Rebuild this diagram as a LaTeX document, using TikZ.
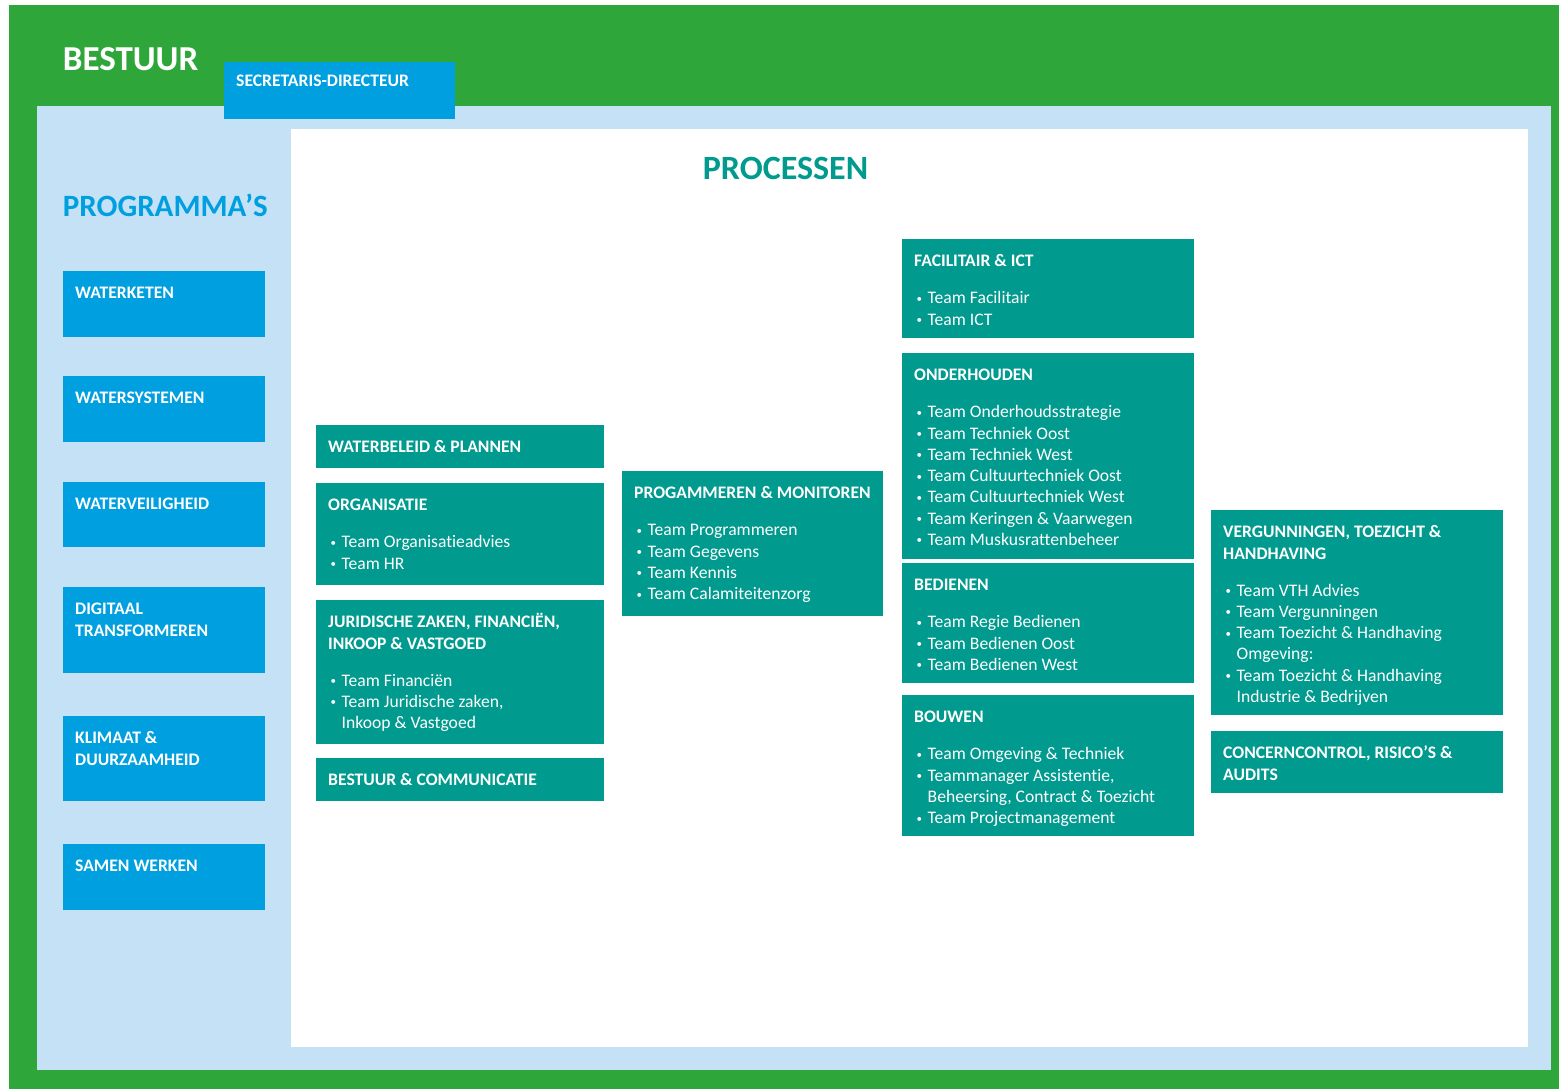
\documentclass[tikz,border=0pt]{standalone}
\usepackage{fontspec}
\setmainfont[Ligatures=NoCommon]{Carlito}
\definecolor{bgreen}{RGB}{46,166,58}
\definecolor{lblue}{RGB}{197,225,246}
\definecolor{pblue}{RGB}{0,160,224}
\definecolor{pteal}{RGB}{0,154,142}
\newcommand{\tm}{\makebox[13.5pt][l]{\hspace{2.5pt}\raisebox{1.6pt}{\fontsize{11}{11}\selectfont\textbullet}}}
\newcommand{\tc}{\hspace*{13.5pt}}
\newcommand{\vak}[3]{\parbox[t][#2pt][t]{#1pt}{\raggedright\leftskip=12pt\rule{0pt}{27.5pt}#3}}
\begin{document}
\begin{tikzpicture}[x=1pt,y=-1pt,
    vak/.style={anchor=north west,inner sep=0pt,text=white,font=\fontsize{17.6}{21.3}\selectfont},
    prog/.style={vak,fill=pblue},
    proc/.style={vak,fill=pteal},
    titel/.style={anchor=base west,inner sep=0pt,font=\bfseries}]
    \useasboundingbox (0,0) rectangle (1559,1089);
    \fill [white] (0,0) rectangle (1559,1089);
    \fill [bgreen] (9,5) rectangle (1559,1089); % bestuur
    \fill [lblue] (37,106) rectangle (1551,1070);
    \fill [white] (291,129) rectangle (1528,1047); % processen
    \node[titel,text=white,font=\fontsize{35}{40}\selectfont\bfseries] (bestuur) at (62.7,70.7) {BESTUUR};
    \node[prog] (secr) at (224,62) {\parbox[t][57pt][t]{231pt}{\leftskip=12pt\rule{0pt}{24pt}\bfseries SECRETARIS-DIRECTEUR}};
    \node[titel,text=pblue,font=\fontsize{31}{36}\selectfont\bfseries] (programmas) at (62.7,216.7) {PROGRAMMA’S};
    \node[titel,text=pteal,font=\fontsize{34}{38}\selectfont\bfseries] (processen) at (702.7,179.3) {PROCESSEN};
    % programma's
    \node[prog] (wk) at (63,271) {\vak{202}{66}{\bfseries WATERKETEN}};
    \node[prog] (ws) at (63,376) {\vak{202}{66}{\bfseries WATERSYSTEMEN}};
    \node[prog] (wv) at (63,482) {\vak{202}{65}{\bfseries WATERVEILIGHEID}};
    \node[prog] (dt) at (63,587) {\vak{202}{86}{\bfseries DIGITAAL\\TRANSFORMEREN}};
    \node[prog] (kd) at (63,716) {\vak{202}{85}{\bfseries KLIMAAT \&\\DUURZAAMHEID}};
    \node[prog] (sw) at (63,844) {\vak{202}{66}{\bfseries SAMEN WERKEN}};
    % processen, kolom 1
    \node[proc] (wbp) at (316,425) {\vak{288}{43}{\bfseries WATERBELEID \& PLANNEN}};
    \node[proc] (org) at (316,483) {\vak{288}{102}{\bfseries ORGANISATIE\\[15.7pt]\mdseries
        \tm Team Organisatieadvies\\\tm Team HR}};
    \node[proc] (jzf) at (316,600) {\vak{288}{144}{\bfseries JURIDISCHE ZAKEN, FINANCIËN,\\INKOOP \& VASTGOED\\[15.7pt]\mdseries
        \tm Team Financiën\\\tm Team Juridische zaken,\\\tc Inkoop \& Vastgoed}};
    \node[proc] (bc) at (316,758) {\vak{288}{43}{\bfseries BESTUUR \& COMMUNICATIE}};
    % kolom 2
    \node[proc] (pm) at (622,471) {\vak{261}{145}{\bfseries PROGAMMEREN \& MONITOREN\\[15.7pt]\mdseries
        \tm Team Programmeren\\\tm Team Gegevens\\\tm Team Kennis\\\tm Team Calamiteitenzorg}};
    % kolom 3
    \node[proc] (fi) at (902,239) {\vak{292}{99}{\bfseries FACILITAIR \& ICT\\[15.7pt]\mdseries
        \tm Team Facilitair\\\tm Team ICT}};
    \node[proc] (oh) at (902,353) {\vak{292}{206}{\bfseries ONDERHOUDEN\\[15.7pt]\mdseries
        \tm Team Onderhoudsstrategie\\\tm Team Techniek Oost\\\tm Team Techniek West\\
        \tm Team Cultuurtechniek Oost\\\tm Team Cultuurtechniek West\\
        \tm Team Keringen \& Vaarwegen\\\tm Team Muskusrattenbeheer}};
    \node[proc] (bd) at (902,563) {\vak{292}{120}{\bfseries BEDIENEN\\[15.7pt]\mdseries
        \tm Team Regie Bedienen\\\tm Team Bedienen Oost\\\tm Team Bedienen West}};
    \node[proc] (bw) at (902,695) {\vak{292}{141}{\bfseries BOUWEN\\[15.7pt]\mdseries
        \tm Team Omgeving \& Techniek\\\tm Teammanager Assistentie,\\
        \tc Beheersing, Contract \& Toezicht\\\tm Team Projectmanagement}};
    % kolom 4
    \node[proc] (vth) at (1211,510) {\vak{292}{205}{\bfseries VERGUNNINGEN, TOEZICHT \&\\HANDHAVING\\[15.7pt]\mdseries
        \tm Team VTH Advies\\\tm Team Vergunningen\\\tm Team Toezicht \& Handhaving\\\tc Omgeving:\\
        \tm Team Toezicht \& Handhaving\\\tc Industrie \& Bedrijven}};
    \node[proc] (cra) at (1211,731) {\vak{292}{62}{\bfseries CONCERNCONTROL, RISICO’S \&\\AUDITS}};
\end{tikzpicture}
\end{document}
